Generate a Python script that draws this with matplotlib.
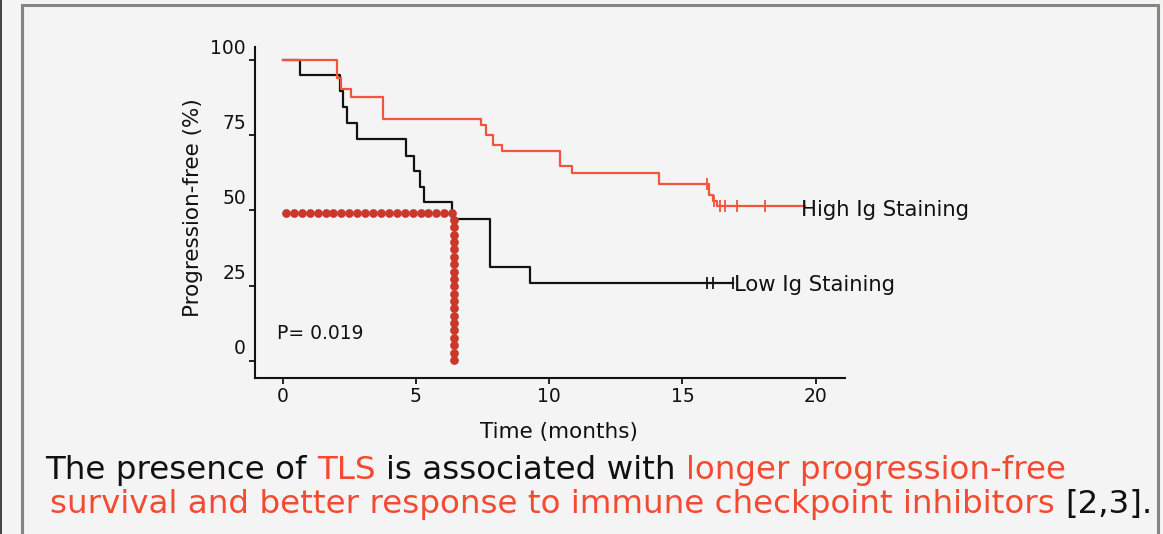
import numpy as np
import matplotlib
matplotlib.use("Agg")
import matplotlib.pyplot as plt
from matplotlib.transforms import ScaledTranslation
from matplotlib.patches import Rectangle
from matplotlib.lines import Line2D

# ---- survival data (months, % progression-free) ----
high_times = [0, 2.05, 2.18, 2.56, 3.78, 7.45, 7.64, 7.88, 8.23, 10.42, 10.86, 14.12, 15.99, 16.15, 16.30]
high_surv = [100, 93.9, 90.3, 87.6, 80.4, 78.3, 75.0, 71.7, 69.7, 64.8, 62.4, 58.7, 55.0, 53.2, 51.3]
high_end = 19.6
high_censor = [15.94, 16.20, 16.40, 16.60, 17.03, 18.10]

low_times = [0, 0.65, 2.15, 2.28, 2.42, 2.78, 4.62, 4.94, 5.16, 5.31, 6.36, 7.79, 9.27]
low_surv = [100, 95.0, 89.8, 84.4, 79.1, 73.6, 68.1, 63.0, 57.8, 52.8, 47.0, 31.1, 25.9]
low_end = 16.88
low_censor = [15.94, 16.13, 16.88]

median_time = 6.44
median_level = 49
p_value = "P= 0.019"

x_ticks = [0, 5, 10, 15, 20]
y_ticks = [0, 25, 50, 75, 100]

RED = "#f4533e"
DOT = "#c9382a"
TXT_RED = "#f44a32"
BG = "#f4f4f4"


def step_value(times, surv, t):
    idx = np.searchsorted(times, t, side="right") - 1
    return np.asarray(surv)[idx]


W, H = 1163, 534
fig = plt.figure(figsize=(W / 100, H / 100), dpi=100, facecolor=BG)

# outer frame
fig.add_artist(Rectangle((22 / W, -0.05), (1158 - 22) / W, 1.05 - 5 / H,
                         transform=fig.transFigure, fill=False,
                         edgecolor="#86867f", linewidth=2.2))
fig.add_artist(Line2D([0.5 / W, 0.5 / W], [0, 1], transform=fig.transFigure,
                      color="#222222", linewidth=1.2))

ax = fig.add_axes([255 / W, 1 - 378 / H, (845 - 255) / W, (378 - 46.7) / H])
ax.set_facecolor(BG)
ax.set_xlim(-1.04, 21.1)
ax.set_ylim(-5.7, 104.4)

# Kaplan-Meier style step curves
ax.step(low_times + [low_end], low_surv + [low_surv[-1]], where="post",
        color="#111111", linewidth=1.6, zorder=3)
ax.plot(low_censor, step_value(low_times, low_surv, low_censor), linestyle="none",
        marker="|", markersize=8, markeredgewidth=1.3, color="#111111", zorder=3)

ax.step(high_times + [high_end], high_surv + [high_surv[-1]], where="post",
        color=RED, linewidth=1.6, zorder=4)
ax.plot(high_censor, step_value(high_times, high_surv, high_censor), linestyle="none",
        marker="|", markersize=8, markeredgewidth=1.3, color=RED, zorder=4)

# median guide drawn as rows of dots
n_h, n_v = 22, 20
h_x = np.linspace(0.12, median_time - 0.08, n_h)
v_y = np.linspace(median_level - 2.2, 0.3, n_v)
ax.plot(h_x, np.full(n_h, median_level), linestyle="none", marker="o",
        markersize=6.3, markeredgewidth=0, color=DOT, zorder=5)
ax.plot(np.full(n_v, median_time), v_y, linestyle="none", marker="o",
        markersize=6.3, markeredgewidth=0, color=DOT, zorder=5)

# curve labels
ax.text(high_end - 0.15, high_surv[-1] - 1.2, "High Ig Staining", fontsize=15.2,
        color="#111111", ha="left", va="center", zorder=6)
ax.text(low_end + 0.05, low_surv[-1] - 0.8, "Low Ig Staining", fontsize=15.2,
        color="#111111", ha="left", va="center", zorder=6)
ax.text(-0.21, 9, p_value, fontsize=13.5, color="#111111", ha="left", va="center")

# axes styling
for side in ("top", "right"):
    ax.spines[side].set_visible(False)
for side in ("left", "bottom"):
    ax.spines[side].set_linewidth(1.5)
    ax.spines[side].set_color("#111111")
ax.set_xticks(x_ticks)
ax.set_yticks(y_ticks)
ax.tick_params(axis="both", length=4.5, width=1.3, color="#111111",
               labelsize=13.5, labelcolor="#111111", pad=2)
ax.tick_params(axis="x", pad=2)
shift = ScaledTranslation(0, 10 / 72, fig.dpi_scale_trans)
for lab in ax.get_yticklabels():
    lab.set_transform(lab.get_transform() + shift)

ax.set_xlabel("Time (months)", fontsize=15.5, color="#111111")
ax.xaxis.set_label_coords(0.515, -0.163)
ax.xaxis.label.set_va("center")
ax.set_ylabel("Progression-free (%)", fontsize=15.5, color="#111111")
ax.yaxis.set_label_coords(-0.105, 0.515)
ax.yaxis.label.set_va("center")

# caption with highlighted phrases
FS = 23.4
line1 = [("The presence of", "#111111"), ("TLS", TXT_RED),
         ("is associated with", "#111111"), ("longer progression-free", TXT_RED)]
line2 = [("survival and better response to immune checkpoint inhibitors", TXT_RED),
         ("[2,3].", "#111111")]

renderer = fig.canvas.get_renderer()


def text_width(s):
    t = fig.text(0, 0, s, fontsize=FS)
    w = t.get_window_extent(renderer).width
    t.remove()
    return w


def caption_line(pieces, x0, baseline):
    prefix = ""
    for s, c in pieces:
        full = (prefix + " " + s) if prefix else s
        x = x0 + text_width(full) - text_width(s)
        fig.text(x / W, 1 - baseline / H, s, fontsize=FS, color=c,
                 ha="left", va="baseline")
        prefix = full


caption_line(line1, 45, 479)
caption_line(line2, 50, 513)

fig.savefig("out.png", dpi=100, facecolor=BG)
